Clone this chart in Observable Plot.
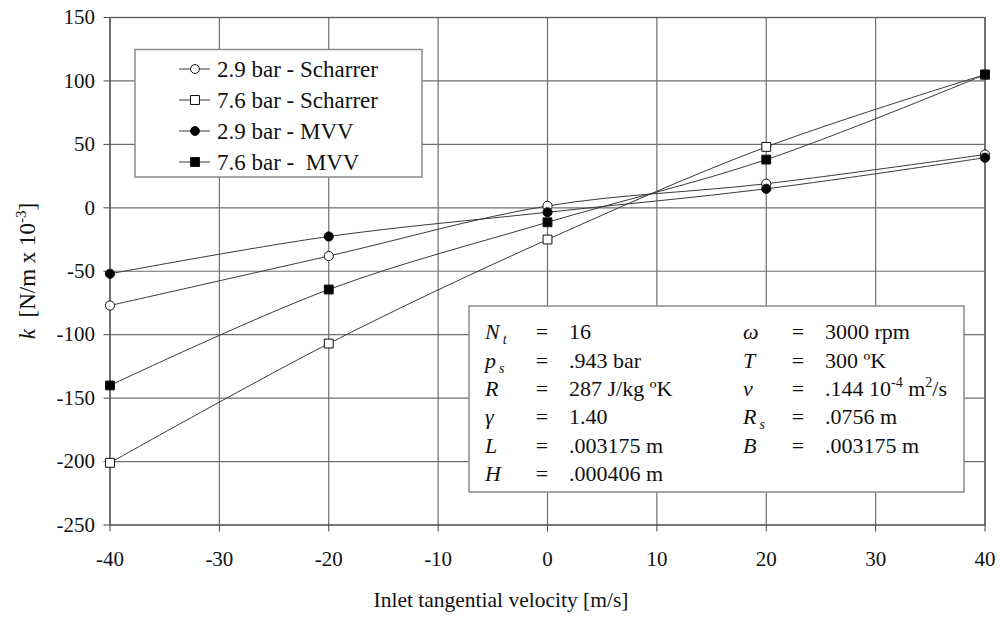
<!DOCTYPE html>
<html>
<head>
<meta charset="utf-8">
<script src="https://cdn.jsdelivr.net/npm/d3@7"></script>
<script src="https://cdn.jsdelivr.net/npm/@observablehq/plot@0.6"></script>
<style>
  html, body { margin: 0; padding: 0; background: #fff; }
  #chart { position: relative; width: 1000px; height: 617px; }
  svg { font-family: "Liberation Serif", "Times New Roman", serif; }
</style>
</head>
<body>
<div id="chart"></div>
<script>
// ---- data ----
const velocity = [-40, -20, 0, 20, 40];
const scharrer29 = [-77, -38, 1.5, 19, 42];
const scharrer76 = [-201, -107, -25, 48, 105];
const mvv29 = [-52, -22.6, -3.5, 15, 39.5];
const mvv76 = [-140, -64.4, -11.4, 38, 105];

const xTicks = [-40, -30, -20, -10, 0, 10, 20, 30, 40];
const yTicks = [-250, -200, -150, -100, -50, 0, 50, 100, 150];

const seriesNames = ["2.9 bar - Scharrer", "7.6 bar - Scharrer", "2.9 bar - MVV", "7.6 bar -  MVV"];
const seriesValues = [scharrer29, scharrer76, mvv29, mvv76];
const seriesSymbol = ["circle", "square", "circle", "square"];
const seriesFill = ["white", "white", "black", "black"];

const rows = [];
seriesNames.forEach((name, i) => {
  velocity.forEach((v, j) => rows.push({series: name, v, k: seriesValues[i][j], idx: i}));
});

const lineColor = "#3a3a3a";
const gridColor = "#6e6e6e";
const font = "Liberation Serif, Times New Roman, serif";

const marks = [
  Plot.gridX(xTicks, {stroke: gridColor, strokeOpacity: 1, strokeWidth: 1.2}),
  Plot.gridY(yTicks, {stroke: gridColor, strokeOpacity: 1, strokeWidth: 1.2}),
  Plot.frame({stroke: "#555", strokeWidth: 1.3}),
  Plot.axisX(xTicks, {tickSize: 7, tickPadding: 19, fontSize: 21, label: null, stroke: "#444", tickFormat: d => String(d)}),
  Plot.axisY(yTicks, {tickSize: 6, tickPadding: 9, fontSize: 21, label: null, stroke: "#444", tickFormat: d => String(d)}),
];
// lines (smoothed as in the spreadsheet chart)
seriesNames.forEach((name, i) => {
  marks.push(Plot.line(rows.filter(d => d.idx === i), {x: "v", y: "k", stroke: lineColor, strokeWidth: 1, curve: "catmull-rom"}));
});
// markers
seriesNames.forEach((name, i) => {
  marks.push(Plot.dot(rows.filter(d => d.idx === i), {
    x: "v", y: "k", symbol: seriesSymbol[i], fill: seriesFill[i], stroke: "#111", strokeWidth: 1,
    r: seriesSymbol[i] === "square" ? 5 : 4.6
  }));
});

const chart = Plot.plot({
  width: 1000,
  height: 617,
  marginLeft: 109.5,
  marginRight: 15.5,
  marginTop: 17,
  marginBottom: 92.5,
  x: {domain: [-40, 40]},
  y: {domain: [-250, 150]},
  style: {fontFamily: font, color: "#111", background: "white"},
  marks
});
document.getElementById("chart").appendChild(chart);

// ---- annotations ----
const svg = d3.select(chart);

// x-axis title
svg.append("text").attr("x", 501).attr("y", 607).attr("text-anchor", "middle")
  .attr("font-size", 21.5).attr("font-family", font).attr("fill", "#111")
  .text("Inlet tangential velocity [m/s]");

// y-axis title
const yl = svg.append("text").attr("transform", "translate(35,271) rotate(-90)")
  .attr("text-anchor", "middle").attr("font-size", 23).attr("font-family", font).attr("fill", "#111")
  .style("white-space", "pre");
yl.append("tspan").attr("font-style", "italic").text("k");
yl.append("tspan").text("  [N/m x 10");
yl.append("tspan").attr("font-size", 15).attr("dy", -9).text("-3");
yl.append("tspan").attr("dy", 9).text("]");

// legend box
const lg = svg.append("g").attr("text-anchor", "start");
lg.append("rect").attr("x", 135).attr("y", 49.5).attr("width", 287).attr("height", 127.5)
  .attr("fill", "white").attr("stroke", "#8a8a8a").attr("stroke-width", 1.5);
const legendY = [69, 100, 131, 162];
seriesNames.forEach((name, i) => {
  const y = legendY[i];
  lg.append("line").attr("x1", 179).attr("x2", 210).attr("y1", y).attr("y2", y).attr("stroke", lineColor);
  const sym = d3.symbol(seriesSymbol[i] === "square" ? d3.symbolSquare : d3.symbolCircle,
    seriesSymbol[i] === "square" ? 80 : 62)();
  lg.append("path").attr("d", sym).attr("transform", `translate(195,${y})`)
    .attr("fill", seriesFill[i]).attr("stroke", "#111");
  lg.append("text").attr("x", 217).attr("y", y + 7.5).attr("font-size", 23).attr("font-family", font)
    .attr("fill", "#111").style("white-space", "pre").text(name);
});

// parameter box
const pb = svg.append("g").attr("font-family", font).attr("font-size", 22).attr("fill", "#111").attr("text-anchor", "start");
pb.append("rect").attr("x", 469).attr("y", 306).attr("width", 495).attr("height", 186)
  .attr("fill", "white").attr("stroke", "#8a8a8a").attr("stroke-width", 1.5);

const paramRows = [
  {sym: "N", sub: "t", val: [["16"]]},
  {sym: "p", sub: "s", val: [[".943 bar"]]},
  {sym: "R", sub: "", val: [["287 J/kg ºK"]]},
  {sym: "γ", sub: "", val: [["1.40"]]},
  {sym: "L", sub: "", val: [[".003175 m"]]},
  {sym: "H", sub: "", val: [[".000406 m"]]},
];
const paramRows2 = [
  {sym: "ω", sub: "", val: [["3000 rpm"]]},
  {sym: "T", sub: "", val: [["300 ºK"]]},
  {sym: "ν", sub: "", val: [[".144 10"], ["-4", "sup"], [" m"], ["2", "sup"], ["/s"]]},
  {sym: "R", sub: "s", val: [[".0756 m"]]},
  {sym: "B", sub: "", val: [[".003175 m"]]},
];
const rowY = [339, 368, 396, 424, 453, 481];
function drawParams(list, xSym, xEq, xVal) {
  list.forEach((p, i) => {
    const y = rowY[i];
    const t = pb.append("text").attr("x", xSym).attr("y", y);
    t.append("tspan").attr("font-style", "italic").text(p.sym);
    if (p.sub) t.append("tspan").attr("font-style", "italic").attr("font-size", 14).attr("dx", 3).attr("dy", 5).text(p.sub);
    pb.append("text").attr("x", xEq).attr("y", y).attr("text-anchor", "middle").text("=");
    const v = pb.append("text").attr("x", xVal).attr("y", y).style("white-space", "pre");
    let shifted = false;
    p.val.forEach(([s, kind]) => {
      const ts = v.append("tspan").text(s);
      if (kind === "sup") { ts.attr("font-size", 14).attr("dy", shifted ? 0 : -9); shifted = true; }
      else if (shifted) { ts.attr("dy", 9); shifted = false; }
    });
  });
}
drawParams(paramRows, 485, 542, 569);
drawParams(paramRows2, 743, 798, 825);
</script>
</body>
</html>
